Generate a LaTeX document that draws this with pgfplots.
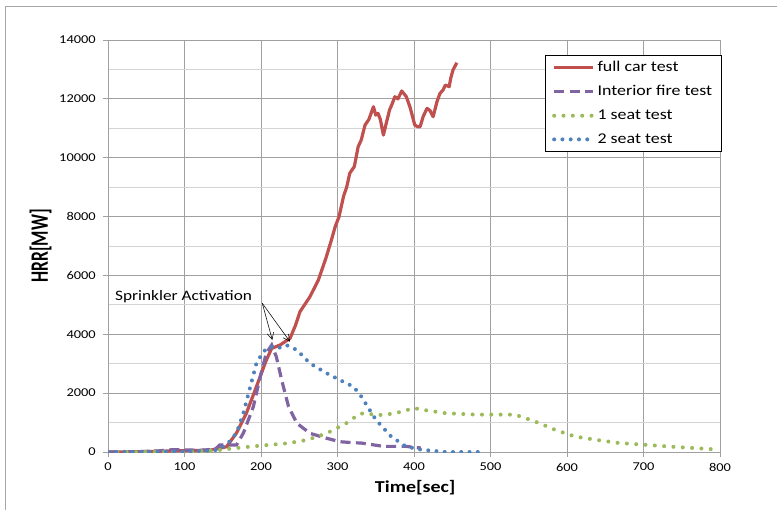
\documentclass[border=0pt]{standalone}
\usepackage{fontspec}
\setmainfont{Carlito}[FakeStretch=1.2]
\usepackage{pgfplots}
\pgfplotsset{compat=1.18}
\usetikzlibrary{arrows.meta}

\definecolor{carred}{HTML}{C0504D}
\definecolor{intpurple}{HTML}{8064A2}
\definecolor{seatgreen}{HTML}{9BBB59}
\definecolor{seatblue}{HTML}{4F81BD}
\definecolor{gridgray}{HTML}{A0A0A0}
\definecolor{minorgray}{HTML}{D4D4D4}

\begin{document}
\begin{tikzpicture}
\useasboundingbox (0,0) rectangle (582.75pt,382.5pt);
\draw[gray!70, line width=0.6pt] (3.75pt,0) -- (3.75pt,378pt) -- (582.75pt,378pt);
\begin{axis}[
    at={(81pt,43.5pt)}, anchor=south west,
    scale only axis,
    width=459pt, height=309pt,
    xmin=0, xmax=800, ymin=0, ymax=14000,
    xtick distance=100, ytick distance=2000,
    minor y tick num=1,
    grid=major, yminorgrids=true,
    major grid style={gridgray, line width=0.6pt},
    minor grid style={minorgray, line width=0.6pt},
    axis line style={gridgray, line width=0.7pt},
    tick align=outside, xtick pos=lower, ytick pos=left,
    major tick length=4pt, minor tick length=0pt,
    tick style={gridgray, line width=0.6pt},
    scaled y ticks=false,
    /pgf/number format/set thousands separator={},
    /pgf/number format/assume math mode=true,
    tick label style={font=\fontsize{9}{10}\selectfont},
    yticklabel style={inner sep=0pt, xshift=-5pt},
    xticklabel style={inner sep=0pt, yshift=-4pt},
    xlabel={\textbf{Time[sec]}},
    ylabel={\textbf{HRR[MW]}},
    label style={font=\fontsize{12.5}{14}\selectfont},
    xlabel style={at={(axis description cs:0.502,-0.087)}, anchor=center},
    ylabel style={at={(axis description cs:-0.11,0.5)}, anchor=center,
        xscale=0.88, yscale=1.5},
    legend style={at={(1.003,0.964)}, anchor=north east, draw=black,
        line width=0.6pt, fill=white, font=\fontsize{11.2}{12}\selectfont,
        row sep=5pt, inner xsep=5pt, inner ysep=2.5pt},
    legend cell align=left,
    legend image code/.code={\draw[#1] (0pt,0pt) -- (29pt,0pt);},
]
% full car test
\addplot[carred, line width=2.4pt, line join=round] coordinates {
 (0,0) (30,5) (60,20) (90,40) (110,50) (133,60) (145,120) (155,180)
 (168,645) (181,1325) (194,2219) (207,3126) (214,3523) (225,3636)
 (238,3863) (245,4300) (251,4770) (264,5277) (275,5845) (285,6600)
 (292,7200) (297,7660) (302,7995) (308,8700) (312,9000) (316,9470)
 (322,9700) (327,10374) (331,10600) (336,11111) (341,11300) (347,11733)
 (350,11450) (353,11508) (356,11300) (360,10771) (364,11200) (368,11620)
 (371,11800) (375,12073) (379,12000) (384,12267) (390,12073) (395,11700)
 (401,11111) (405,11050) (408,11055) (412,11400) (417,11677) (421,11600)
 (425,11394) (430,11900) (434,12188) (438,12300) (441,12470) (446,12413)
 (448,12700) (451,12980) (456,13228)
};
% interior fire test
\addplot[intpurple, line width=2.4pt, dash pattern=on 7.5pt off 4pt] coordinates {
 (0,0) (40,10) (68,40) (85,80) (100,70) (120,60) (140,90) (146,240)
 (168,240) (177,645) (190,1540) (199,2560) (207,3364) (214,3636)
 (220,3240) (227,2450) (236,1540) (247,975) (264,635) (286,465)
 (303,350) (320,316) (331,305) (345,250) (360,192) (389,192) (409,135)
};
% 1 seat test
\addplot[seatgreen, line width=3pt, line cap=round, dash pattern=on 0pt off 7pt] coordinates {
 (0,0) (100,0) (140,50) (164,125) (199,215) (234,295) (260,408)
 (286,635) (312,985) (329,1300) (338,1320) (350,1250) (363,1270)
 (376,1320) (390,1420) (400,1490) (415,1420) (441,1320) (480,1270)
 (532,1270) (558,1040) (584,760) (610,530) (636,420) (668,305)
 (700,250) (731,190) (765,135) (800,80)
};
% 2 seat test
\addplot[seatblue, line width=3pt, line cap=round, dash pattern=on 0pt off 6.2pt] coordinates {
 (0,0) (100,20) (140,60) (155,238) (168,645) (177,1325) (186,2219)
 (194,3013) (203,3410) (212,3580) (222,3523) (233,3636) (247,3466)
 (264,3013) (286,2673) (303,2446) (321,2219) (331,1890) (350,1100)
 (370,530) (389,190) (409,80) (441,0) (490,0)
};
\legend{full car test, Interior fire test, 1 seat test, 2 seat test}
\node[anchor=west, inner sep=0pt, font=\fontsize{10.8}{12}\selectfont]
  at (axis cs:9,5267) {Sprinkler Activation};
\draw[-{Straight Barb[length=5pt,width=5pt]}, line width=0.4pt]
  (axis cs:201.7,5053) -- (axis cs:214.8,3806);
\draw[-{Straight Barb[length=5pt,width=5pt]}, line width=0.4pt]
  (axis cs:201.7,5053) -- (axis cs:237.9,3748);
\end{axis}
\end{tikzpicture}
\end{document}
